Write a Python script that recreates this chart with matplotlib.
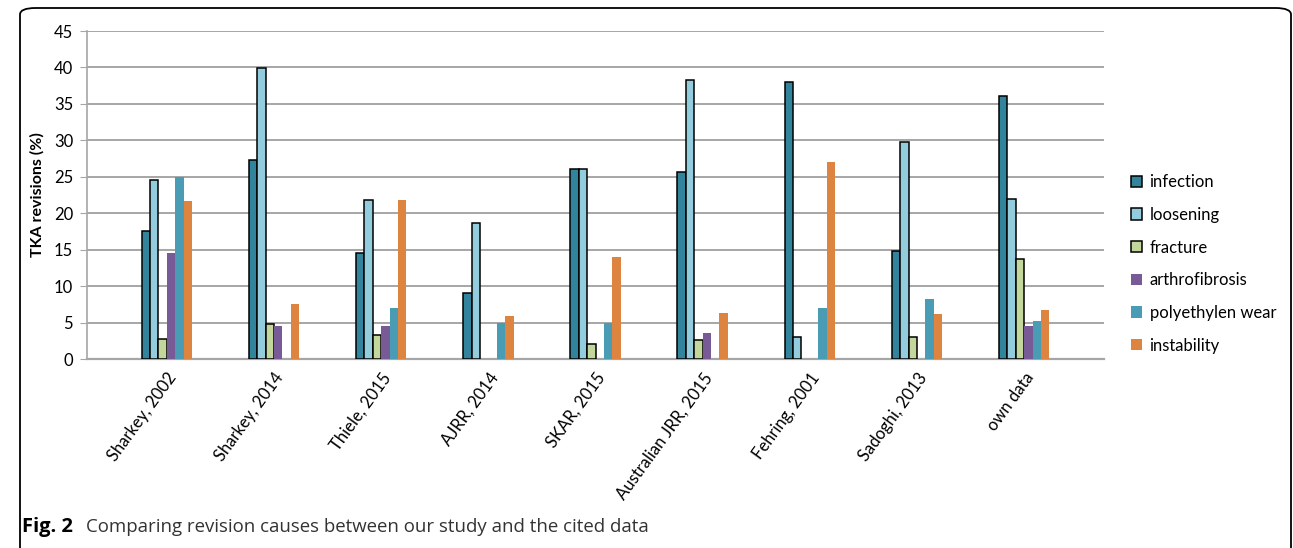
import numpy as np
import matplotlib.pyplot as plt
from matplotlib.patches import FancyBboxPatch

plt.rcParams['font.family'] = ['Lato', 'DejaVu Sans']

estudos = ['Sharkey, 2002', 'Sharkey, 2014', 'Thiele, 2015', 'AJRR, 2014', 'SKAR, 2015',
           'Australian JRR, 2015', 'Fehring, 2001', 'Sadoghi, 2013', 'own data']

infection = [17.5, 27.3, 14.5, 9.1, 26.0, 25.6, 38.0, 14.8, 36.1]
loosening = [24.6, 39.9, 21.8, 18.6, 26.0, 38.3, 3.0, 29.8, 21.9]
fracture = [2.8, 4.8, 3.3, 0, 2.0, 2.6, 0, 3.0, 13.7]
arthrofibrosis = [14.6, 4.5, 4.5, 0, 0, 3.6, 0, 0, 4.5]
polyethylen_wear = [25.0, 0, 7.0, 5.0, 5.0, 0, 7.0, 8.2, 5.2]
instability = [21.7, 7.5, 21.8, 5.9, 14.0, 6.3, 27.0, 6.2, 6.7]

series = [('infection', infection, '#31849B', True),
          ('loosening', loosening, '#93CDDD', True),
          ('fracture', fracture, '#C3D69B', True),
          ('arthrofibrosis', arthrofibrosis, '#775A96', False),
          ('polyethylen wear', polyethylen_wear, '#4A9CB4', False),
          ('instability', instability, '#DD8440', False)]

fig = plt.figure(figsize=(12.93, 5.48), dpi=100)
ax = fig.add_axes([87 / 1293, 1 - 359 / 548, (1104 - 87) / 1293, (359 - 31) / 548])

x = np.arange(len(estudos))
w = 0.0785
for i, (nome, vals, cor, borda) in enumerate(series):
    if borda:
        # barras com valor zero não desenham contorno
        larg = [1.1 if v > 0 else 0 for v in vals]
        ax.bar(x + (i - 2.5) * w, vals, w, color=cor, edgecolor='black', linewidth=larg,
               label=nome, zorder=3)
    else:
        ax.bar(x + (i - 2.5) * w, vals, w, color=cor, linewidth=0, label=nome, zorder=3)

ax.set_xlim(-0.745, len(estudos) - 1 + 0.745)
ax.set_ylim(0, 45)
ax.set_yticks(np.arange(0, 46, 5))
ax.yaxis.grid(True, color='#A6A6A6', linewidth=1.4, zorder=0)
ax.set_axisbelow(True)
for s in ['top', 'right']:
    ax.spines[s].set_visible(False)
ax.spines['left'].set_color('#A6A6A6')
ax.spines['bottom'].set_color('#A6A6A6')
ax.spines['left'].set_linewidth(1.2)
ax.spines['bottom'].set_linewidth(1.6)
ax.tick_params(axis='y', length=5, color='#A6A6A6', labelsize=12, pad=5)
ax.tick_params(axis='x', length=0, labelsize=12, pad=8)
ax.set_xticks(x)
ax.set_xticklabels(estudos, rotation=54, ha='right', rotation_mode='anchor')
ax.set_ylabel('TKA revisions (%)', fontsize=11.5, fontweight='bold', labelpad=7)

leg = ax.legend(loc='center left', bbox_to_anchor=(1.012, 0.29), frameon=False,
                fontsize=12, handlelength=0.65, handleheight=0.65, handletextpad=0.45,
                labelspacing=1.0)
for h in leg.legend_handles[3:]:
    h.set_linewidth(0)

# moldura arredondada da figura
caixa = FancyBboxPatch((20 / 1293, -0.02), 1271 / 1293, 1 - 8 / 548 + 0.02,
                       boxstyle='round,pad=0,rounding_size=0.012', transform=fig.transFigure,
                       facecolor='none', edgecolor='black', linewidth=1.3, clip_on=False)
fig.patches.append(caixa)

fig.text(22 / 1293, 1 - 527 / 548, 'Fig. 2', fontsize=14.5, fontweight='bold', va='center',
         family=['Open Sans', 'DejaVu Sans'])
fig.text(86 / 1293, 1 - 527 / 548, 'Comparing revision causes between our study and the cited data',
         fontsize=13.4, color='#333333', va='center', family=['Open Sans', 'DejaVu Sans'])

fig.savefig('out.png', dpi=100)
